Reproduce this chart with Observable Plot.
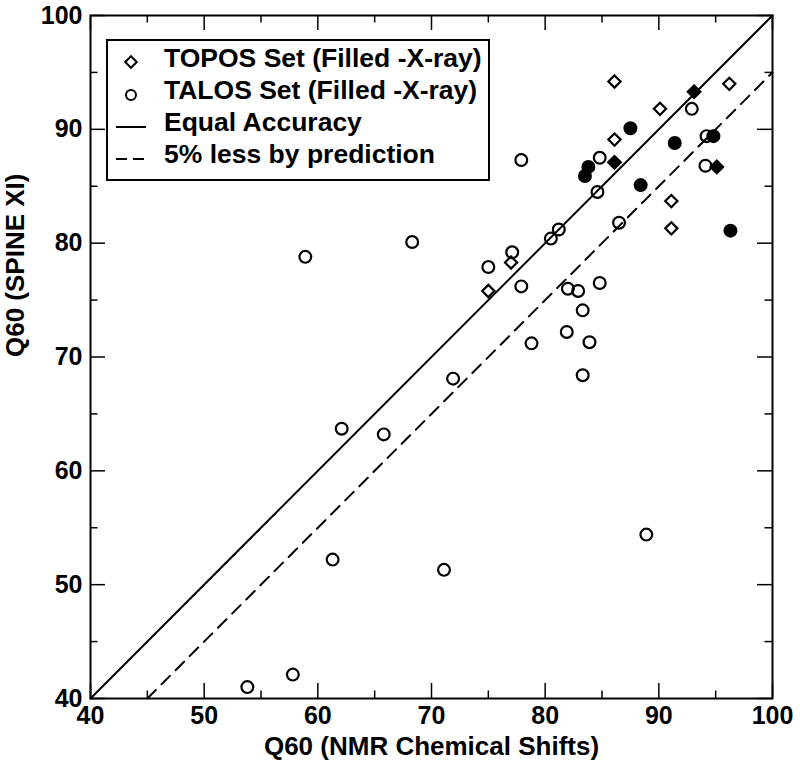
<!DOCTYPE html>
<html><head><meta charset="utf-8">
<script src="https://cdn.jsdelivr.net/npm/d3@7"></script>
<script src="https://cdn.jsdelivr.net/npm/@observablehq/plot@0.6"></script>
<style>
body{margin:0;background:#fff;}
#wrap{position:relative;width:800px;height:765px;}
#legend{position:absolute;left:106px;top:39px;}
svg text{font-family:"Liberation Sans",Arial,sans-serif;}
</style></head><body><div id="wrap"></div>
<script>
// TOPOS set (open = NMR-only, filled = X-ray)
const toposOpen = [[86.1,94.2],[96.2,94.0],[90.1,91.8],[86.1,89.1],[91.1,83.7],[91.1,81.3],[77.0,78.3],[75.0,75.8]];
const toposFilled = [[93.1,93.3],[86.1,87.1],[95.1,86.7]];
// TALOS set
const talosOpen = [[92.9,91.8],[84.8,87.5],[77.9,87.3],[94.2,89.4],[94.1,86.8],[84.6,84.5],[86.5,81.8],[80.5,80.4],[81.2,81.2],[68.3,80.1],[58.9,78.8],[75.0,77.9],[77.1,79.2],[77.9,76.2],[82.0,76.0],[82.9,75.8],[84.8,76.5],[83.3,74.1],[81.9,72.2],[78.8,71.2],[83.9,71.3],[83.3,68.4],[71.9,68.1],[62.1,63.7],[65.8,63.2],[61.3,52.2],[71.1,51.3],[88.9,54.4],[57.8,42.1],[53.8,41.0]];
const talosFilled = [[87.5,90.1],[83.8,86.7],[83.5,85.9],[91.4,88.8],[94.8,89.4],[88.4,85.1],[96.3,81.1]];
// reference lines
const equalLine = [[40,40],[100,100]];
const lessLine = [[45,40],[100,95]];
// ticks
const majorTicks = [40,50,60,70,80,90,100];
const minorTicks = [45,55,65,75,85,95];
const xLabel = "Q60 (NMR Chemical Shifts)";
const yLabel = "Q60 (SPINE XI)";
const legendItems = ["TOPOS Set (Filled -X-ray)","TALOS Set (Filled -X-ray)","Equal Accuracy","5% less by prediction"];

const W=800,H=765,mL=90,mR=28,mT=15,mB=67;
const iW=W-mL-mR, iH=H-mT-mB;
const font='"Liberation Sans",Arial,sans-serif';
const tk={stroke:"black",strokeWidth:1.5};

const chart = Plot.plot({
  width:W,height:H,marginLeft:mL,marginRight:mR,marginTop:mT,marginBottom:mB,
  style:{fontFamily:font,background:"white",color:"black"},
  x:{domain:[40,100]},
  y:{domain:[40,100]},
  marks:[
    Plot.line(equalLine,{x:d=>d[0],y:d=>d[1],stroke:"black",strokeWidth:2}),
    Plot.line(lessLine,{x:d=>d[0],y:d=>d[1],stroke:"black",strokeWidth:2,strokeDasharray:"12,8"}),
    Plot.dot(toposOpen,{x:d=>d[0],y:d=>d[1],symbol:"diamond2",r:5.5,stroke:"black",strokeWidth:2.2,fill:"none"}),
    Plot.dot(toposFilled,{x:d=>d[0],y:d=>d[1],symbol:"diamond2",r:5.8,stroke:"black",strokeWidth:2,fill:"black"}),
    Plot.dot(talosOpen,{x:d=>d[0],y:d=>d[1],symbol:"circle",r:5.9,stroke:"black",strokeWidth:2.2,fill:"none"}),
    Plot.dot(talosFilled,{x:d=>d[0],y:d=>d[1],symbol:"circle",r:6,stroke:"black",strokeWidth:2,fill:"black"}),
    Plot.tickX(majorTicks,{x:d=>d,insetTop:iH-15,...tk}),
    Plot.tickX(majorTicks,{x:d=>d,insetBottom:iH-15,...tk}),
    Plot.tickX(minorTicks,{x:d=>d,insetTop:iH-7.5,...tk}),
    Plot.tickX(minorTicks,{x:d=>d,insetBottom:iH-7.5,...tk}),
    Plot.tickY(majorTicks,{y:d=>d,insetRight:iW-15,...tk}),
    Plot.tickY(majorTicks,{y:d=>d,insetLeft:iW-15,...tk}),
    Plot.tickY(minorTicks,{y:d=>d,insetRight:iW-7.5,...tk}),
    Plot.tickY(minorTicks,{y:d=>d,insetLeft:iW-7.5,...tk}),
    Plot.frame({stroke:"black",strokeWidth:2}),
    Plot.axisX(majorTicks,{anchor:"bottom",tickSize:0,tickPadding:8,fontSize:25,fontWeight:"bold",label:null}),
    Plot.axisY(majorTicks,{anchor:"left",tickSize:0,tickPadding:8,fontSize:25,fontWeight:"bold",label:null}),
    Plot.text([xLabel],{text:d=>d,frameAnchor:"bottom",dy:56,lineAnchor:"bottom",fontSize:26,fontWeight:"bold"}),
    Plot.text([yLabel],{text:d=>d,frameAnchor:"left",dx:-67,rotate:-90,lineAnchor:"bottom",fontSize:26,fontWeight:"bold"})
  ]
});
const wrap=document.getElementById("wrap");
wrap.appendChild(chart);

// legend overlay
const lg=d3.select(wrap).append("svg").attr("id","legend").attr("width",384).attr("height",142);
lg.append("rect").attr("x",1).attr("y",1).attr("width",382).attr("height",140).attr("fill","white").attr("stroke","black").attr("stroke-width",2);
lg.append("path").attr("d",d3.symbol(d3.symbolDiamond2,85)()).attr("transform","translate(25,23)").attr("fill","none").attr("stroke","black").attr("stroke-width",2);
lg.append("circle").attr("cx",25).attr("cy",56).attr("r",5).attr("fill","none").attr("stroke","black").attr("stroke-width",2);
lg.append("line").attr("x1",10).attr("x2",40).attr("y1",88).attr("y2",88).attr("stroke","black").attr("stroke-width",2);
lg.append("line").attr("x1",10).attr("x2",40).attr("y1",120).attr("y2",120).attr("stroke","black").attr("stroke-width",2).attr("stroke-dasharray","11,6");
lg.selectAll("text.l").data(legendItems).join("text").attr("class","l")
  .attr("x",58).attr("y",(d,i)=>28+i*32).attr("font-size",26.5).attr("font-weight","bold").attr("fill","black").text(d=>d);
</script></body></html>
